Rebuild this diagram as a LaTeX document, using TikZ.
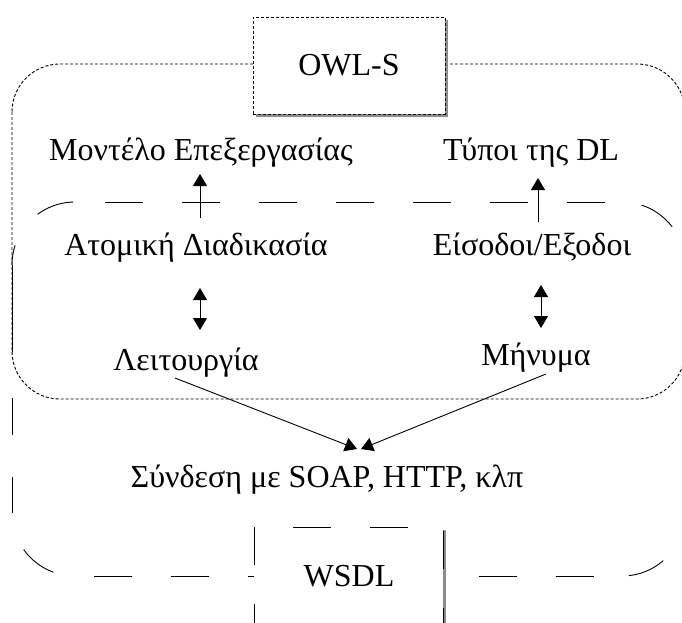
\documentclass[tikz,border=0pt]{standalone}
\usepackage{fontspec}
\setmainfont{Liberation Serif}
\usetikzlibrary{arrows.meta}

\begin{document}
\begin{tikzpicture}[x=1pt,y=-1pt,
  txt/.style={font=\fontsize{32}{38}\selectfont, inner sep=0pt},
  lbl/.style={txt, anchor=base},
  thin line/.style={line width=0.9pt},
  fine/.style={thin line, dash pattern=on 3pt off 2pt},
  longdash/.style={thin line, dash pattern=on 38pt off 39pt},
  arr/.style={thin line, -{Triangle[length=12pt,width=14pt]}},
  darr/.style={thin line, {Triangle[length=12pt,width=14pt]}-{Triangle[length=12pt,width=14pt]}},
  shadow/.style={fill=black!45, draw=none},
]
\useasboundingbox (0,0) rectangle (682,623);
\clip (0,0) rectangle (682,623);

% WSDL frame: long-dashed rounded rectangle, drawn side by side
\begin{scope}[longdash]
  \draw[dash phase=18pt, rounded corners=63pt] (12,265) -- (12,202) -- (75,202);
  \draw[dash phase=47pt] (75,202) -- (622,202);
  \draw[dash phase=57pt, rounded corners=63pt] (622,202) -- (685,202) -- (685,265);
  \draw (685,265) -- (685,513);
  \draw[dash phase=70pt, rounded corners=63pt] (622,576) -- (685,576) -- (685,513);
  \draw[dash phase=58pt] (75,576) -- (622,576);
  \draw[dash phase=38pt, rounded corners=63pt] (12,513) -- (12,576) -- (75,576);
  \draw[dash pattern=on 87pt off 46pt on 37pt off 42pt on 36pt off 50pt] (12,265) -- (12,513);
\end{scope}

% OWL-S frame: finely dashed rounded rectangle
\draw[fine, rounded corners=48pt] (12,64) rectangle (685,399);

% OWL-S title box with shadow
\fill[shadow] (256,20) rectangle (448,117);
\node[txt, draw, fine, fill=white, minimum width=192pt, minimum height=97pt] (owls) at (349,65.5) {OWL-S};

% WSDL title box with shadow
\fill[shadow] (257,530) rectangle (446,650);
\fill[white] (254,527) rectangle (443,647);
\draw[longdash] (254,642) -- (254,527) -- (443,527) -- (443,642);
\node[lbl] (wsdl) at (349,586) {WSDL};

% labels
\node[lbl] (model) at (201,160) {Μοντέλο Επεξεργασίας};
\node[lbl] (types) at (531,160) {Τύποι της DL};
\node[lbl] (atomic) at (196,255) {Ατομική Διαδικασία};
\node[lbl] (io) at (532,255) {Είσοδοι/Εξοδοι};
\node[lbl] (oper) at (186,370) {Λειτουργία};
\node[lbl] (mess) at (536,365) {Μήνυμα};
\node[lbl] (link) at (327,487) {Σύνδεση με SOAP, HTTP, κλπ};

% connectors
\draw[arr] ([shift={(4,-37)}]atomic.base) -- ([shift={(-1,14)}]model.base);
\draw[arr] ([shift={(6,-33)}]io.base) -- ([shift={(7,18)}]types.base);
\draw[darr] ([shift={(4,33)}]atomic.base) -- ([shift={(14,-40)}]oper.base);
\draw[darr] ([shift={(9,30)}]io.base) -- ([shift={(5,-37)}]mess.base);
\draw[arr] ([shift={(-11,8)}]oper.base) -- ([shift={(30,-38)}]link.base);
\draw[arr] ([shift={(10,9)}]mess.base) -- ([shift={(34,-38)}]link.base);
\end{tikzpicture}
\end{document}
